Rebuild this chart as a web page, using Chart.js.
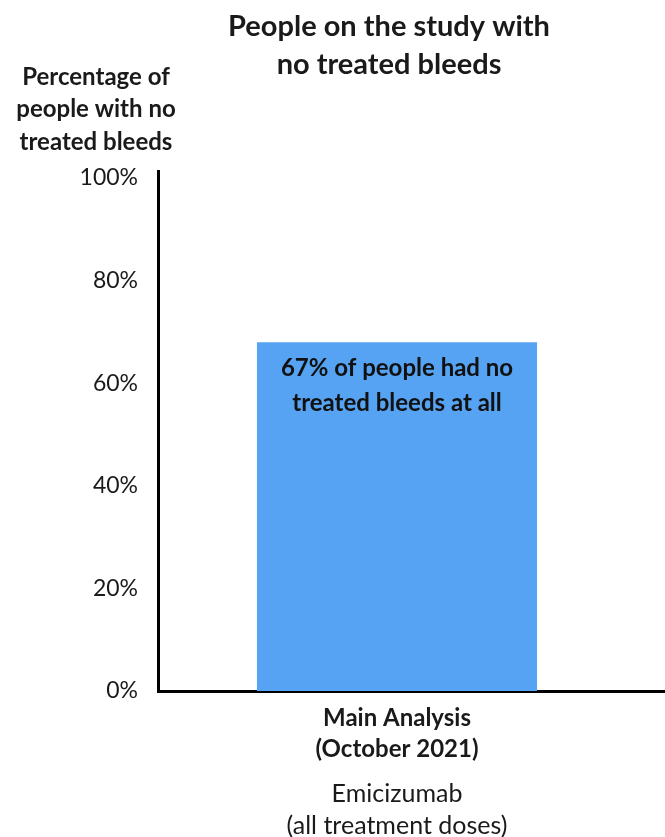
<!DOCTYPE html>
<html>
<head>
<meta charset="utf-8">
<script src="https://cdn.jsdelivr.net/npm/chart.js@4.4.0/dist/chart.umd.min.js"></script>
<style>
    html, body { margin: 0; padding: 0; background: #ffffff; }
    .wrap { width: 665px; height: 837px; position: relative; }
</style>
</head>
<body>
<div class="wrap"><canvas id="chart"></canvas></div>
<script>
const categories = [["Main Analysis", "(October 2021)"]];
const noBleedPct = [68];
const yTicks = [0, 20, 40, 60, 80, 100];
const chartTitle = ["People on the study with", "no treated bleeds"];
const yTitle = ["Percentage of", "people with no", "treated bleeds"];
const xTitle = ["Emicizumab", "(all treatment doses)"];
const barNote = ["67% of people had no", "treated bleeds at all"];

const fontName = "Lato, 'Open Sans', sans-serif";
const textColor = "#1a1a1a";

// same rounding chart.js uses for a 3px border
const align3 = p => Math.round(p - 1.5) + 1.5;

// titles, bar note and the longer axis lines
const extras = {
    id: "extras",
    afterDraw(chart) {
        const ctx = chart.ctx;
        const area = chart.chartArea;
        ctx.save();
        ctx.fillStyle = textColor;
        ctx.textAlign = "center";
        ctx.textBaseline = "middle";

        ctx.font = "bold 29px " + fontName;
        ctx.fillText(chartTitle[0], 389, 27);
        ctx.fillText(chartTitle[1], 389, 65);

        ctx.font = "bold 24px " + fontName;
        yTitle.forEach((t, i) => ctx.fillText(t, 96, 77 + i * 32.5));

        const bar = chart.getDatasetMeta(0).data[0];
        ctx.font = "bold 24px " + fontName;
        ctx.fillStyle = "#111111";
        barNote.forEach((t, i) => ctx.fillText(t, bar.x, bar.y + 26 + i * 35));

        const yb = align3(area.bottom);
        const xb = align3(area.left);
        ctx.strokeStyle = "#000000";
        ctx.lineWidth = 3;
        ctx.beginPath();
        ctx.moveTo(area.right - 2, yb);
        ctx.lineTo(chart.width, yb);
        ctx.moveTo(xb, area.top + 2);
        ctx.lineTo(xb, area.top - 8);
        ctx.stroke();
        ctx.restore();
    }
};

new Chart(document.getElementById("chart"), {
    type: "bar",
    data: {
        labels: categories,
        datasets: [{
            data: noBleedPct,
            backgroundColor: "#55a3f2",
            borderWidth: 0,
            barPercentage: 0.586,
            categoryPercentage: 1
        }]
    },
    options: {
        responsive: true,
        maintainAspectRatio: false,
        animation: false,
        layout: {
            padding: { top: 178, right: 29, left: 0, bottom: -5 }
        },
        plugins: {
            legend: { display: false },
            tooltip: { enabled: false }
        },
        scales: {
            x: {
                grid: { display: false, drawTicks: false },
                border: { color: "#000000", width: 3 },
                ticks: {
                    color: textColor,
                    padding: 12,
                    font: { family: fontName, size: 24, weight: "bold", lineHeight: "31px" }
                },
                title: {
                    display: true,
                    text: xTitle,
                    color: textColor,
                    font: { family: fontName, size: 25, lineHeight: "32px" },
                    padding: { top: 1, bottom: 0 }
                }
            },
            y: {
                min: 0,
                max: 100,
                afterFit(scale) { scale.width = 158; },
                afterBuildTicks(scale) { scale.ticks = yTicks.map(v => ({ value: v })); },
                grid: { display: false, drawTicks: false },
                border: { color: "#000000", width: 3 },
                ticks: {
                    color: textColor,
                    padding: 20,
                    font: { family: fontName, size: 23 },
                    callback: v => v + "%"
                }
            }
        }
    },
    plugins: [extras]
});
</script>
</body>
</html>
